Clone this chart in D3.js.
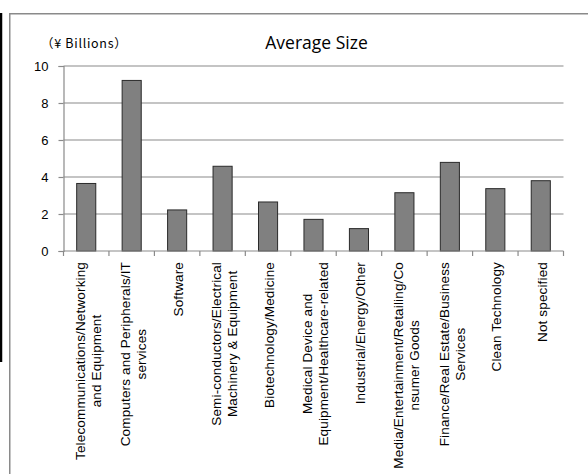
<!DOCTYPE html>
<html>
<head>
<meta charset="utf-8">
<script src="https://cdn.jsdelivr.net/npm/d3@7"></script>
<style>
  html, body { margin: 0; padding: 0; background: #fff; }
  svg { display: block; }
</style>
</head>
<body>
<svg id="chart" width="588" height="474"></svg>
<script>
// Industry categories (label lines) and average deal size in ¥ billions
const categories = [
  ["Telecommunications/Networking", "and Equipment"],
  ["Computers and Peripherals/IT", "services"],
  ["Software"],
  ["Semi-conductors/Electrical", "Machinery & Equipment"],
  ["Biotechnology/Medicine"],
  ["Medical Device and", "Equipment/Healthcare-related"],
  ["Industrial/Energy/Other"],
  ["Media/Entertainment/Retailing/Co", "nsumer Goods"],
  ["Finance/Real Estate/Business", "Services"],
  ["Clean Technology"],
  ["Not specified"]
];
const averageSize = [3.65, 9.22, 2.22, 4.58, 2.65, 1.71, 1.21, 3.15, 4.79, 3.37, 3.80];
const yTicks = [0, 2, 4, 6, 8, 10];
const chartTitle = "Average Size";
const unitLabel = "（¥ Billions）";

(function draw() {
  const svg = d3.select("#chart");
  const gridColor = "#8a8a8a";

  // outer frame
  svg.append("line").attr("x1", 1).attr("x2", 1).attr("y1", 13).attr("y2", 362)
    .attr("stroke", "#000").attr("stroke-width", 2.5);
  svg.append("rect").attr("x", 9.75).attr("y", 13.75).attr("width", 620).attr("height", 500)
    .attr("fill", "none").attr("stroke", gridColor).attr("stroke-width", 1.5);

  const plotLeft = 63.5, plotRight = 563.5, plotTop = 66, plotBottom = 251;
  const keys = categories.map((c, i) => i);
  const x = d3.scaleBand().domain(keys).range([plotLeft, plotRight]).padding(0);
  const y = d3.scaleLinear().domain([0, 10]).range([plotBottom, plotTop]);

  // horizontal gridlines
  svg.append("g").selectAll("line").data(yTicks.filter(t => t > 0)).join("line")
    .attr("x1", plotLeft).attr("x2", plotRight)
    .attr("y1", d => y(d)).attr("y2", d => y(d))
    .attr("stroke", gridColor).attr("stroke-width", 1.2);

  // bars
  const barW = x.bandwidth() * 0.42;
  svg.append("g").selectAll("rect").data(averageSize).join("rect")
    .attr("x", (d, i) => x(i) + (x.bandwidth() - barW) / 2)
    .attr("width", barW)
    .attr("y", d => y(d))
    .attr("height", d => y(0) - y(d))
    .attr("fill", "#808080")
    .attr("stroke", "#2a2a2a")
    .attr("stroke-width", 1);

  // y axis
  const yAxis = svg.append("g").attr("transform", `translate(${plotLeft},0)`)
    .call(d3.axisLeft(y).tickValues(yTicks).tickSize(5).tickPadding(10).tickFormat(d3.format("d")));
  yAxis.select(".domain").attr("stroke", gridColor).attr("stroke-width", 1.2);
  yAxis.selectAll(".tick line").attr("stroke", gridColor).attr("stroke-width", 1.2);
  yAxis.selectAll(".tick text")
    .attr("font-family", "'Liberation Sans', Arial, sans-serif")
    .attr("font-size", 13).attr("fill", "#000");

  // x axis: baseline with ticks at category boundaries
  const xAxisG = svg.append("g");
  xAxisG.append("line").attr("x1", plotLeft).attr("x2", plotRight)
    .attr("y1", plotBottom).attr("y2", plotBottom)
    .attr("stroke", gridColor).attr("stroke-width", 1.2);
  const bounds = keys.map(i => x(i)).concat([plotRight]);
  xAxisG.selectAll("line.tk").data(bounds).join("line").attr("class", "tk")
    .attr("x1", d => d).attr("x2", d => d).attr("y1", plotBottom).attr("y2", plotBottom + 5)
    .attr("stroke", gridColor).attr("stroke-width", 1.2);

  // rotated category labels: lines centred on each other, block starting under the axis
  const labelTop = 262;
  const labelG = svg.append("g")
    .attr("font-family", "'Liberation Sans', Arial, sans-serif")
    .attr("font-size", 13.5).attr("letter-spacing", "0.15px").attr("fill", "#000");
  categories.forEach((lines, i) => {
    const cx = x(i) + x.bandwidth() / 2;
    const offsets = lines.length === 1 ? [1] : [-6, 10];
    const texts = lines.map((ln, j) => labelG.append("text")
      .attr("text-anchor", "middle")
      .attr("dy", "0.35em")
      .text(ln));
    const maxLen = d3.max(texts, t => t.node().getComputedTextLength());
    const mid = labelTop + maxLen / 2;
    texts.forEach((t, j) => {
      t.attr("transform", `translate(${cx + offsets[j]},${mid}) rotate(-90)`);
    });
  });

  // title and unit
  svg.append("text").attr("x", 316.5).attr("y", 49)
    .attr("text-anchor", "middle")
    .attr("font-family", "'Open Sans', sans-serif")
    .attr("font-size", 17.5).attr("fill", "#000")
    .text(chartTitle);
  svg.append("text").attr("x", 41).attr("y", 47.5)
    .attr("font-family", "'Noto Sans CJK JP', sans-serif")
    .attr("font-size", 12.5).attr("letter-spacing", "0.7px").attr("fill", "#000")
    .text(unitLabel);
})();
</script>
</body>
</html>
